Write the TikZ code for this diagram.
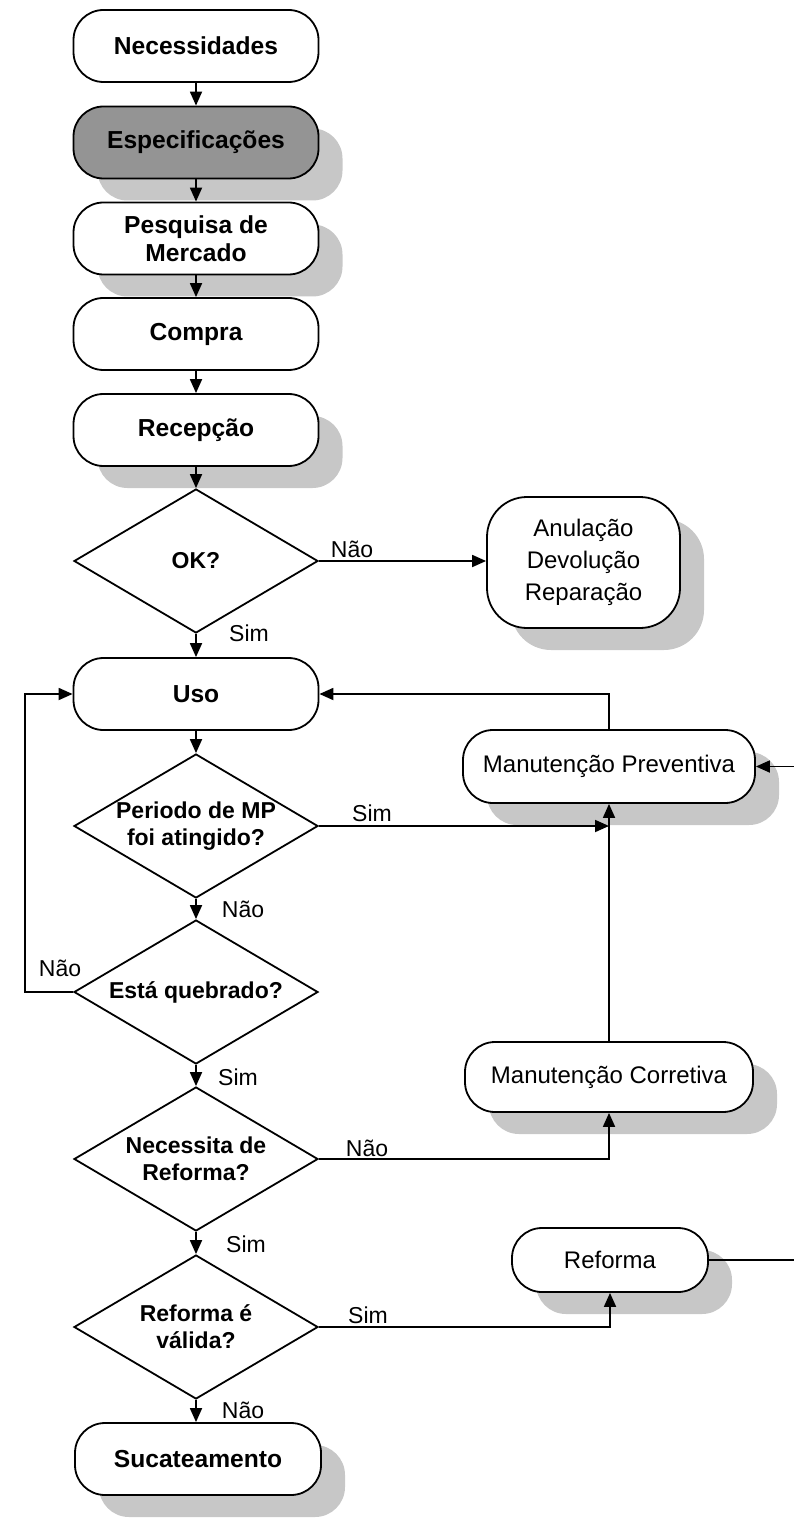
\documentclass[tikz,border=0pt]{standalone}
\usepackage{fontspec}
\setmainfont{Liberation Sans}
\usetikzlibrary{shapes.geometric,arrows.meta,shadows}

\begin{document}
\begin{tikzpicture}[x=0.5pt,y=-0.5pt,
  every node/.style={inner sep=0pt},
  term/.style={draw, line width=0.9pt, rounded corners=15pt, fill=white,
    minimum width=122.5pt, minimum height=36pt, align=center,
    font=\fontsize{12.3}{14}\selectfont\bfseries},
  proc/.style={draw, line width=0.9pt, rounded corners=15pt, fill=white,
    minimum height=36.5pt, align=center,
    font=\fontsize{12}{16}\selectfont},
  shade/.style={drop shadow={shadow xshift=12pt, shadow yshift=-11pt,
    fill=black!22, opacity=1}},
  decision/.style={draw, diamond, aspect=1.69, line width=0.9pt, fill=white,
    minimum width=122pt, minimum height=72pt, align=center,
    font=\fontsize{11.5}{13.5}\selectfont\bfseries},
  flow/.style={line width=0.9pt, -{Triangle[length=7pt,width=6pt]}},
  link/.style={line width=0.9pt},
  lbl/.style={font=\fontsize{11.5}{14}\selectfont}
]
\useasboundingbox (0,0) rectangle (793,1518);

% main column
\node[term] (nec) at (196,46) {Necessidades};
\node[term, shade, fill=black!42] (esp) at (196,142.5) {Especificações};
\node[term, shade] (pesq) at (196,238.5) {Pesquisa de\\Mercado};
\node[term] (compra) at (196,334) {Compra};
\node[term, shade] (rec) at (196,430) {Recepção};
\node[decision] (ok) at (196,561) {OK?};
\node[term] (uso) at (196,694) {Uso};
\node[decision] (mp) at (196,826) {Periodo de MP\\foi atingido?};
\node[decision] (quebrado) at (196,992) {Está quebrado?};
\node[decision] (nref) at (196,1159) {Necessita de\\Reforma?};
\node[decision] (valida) at (196,1327) {Reforma é\\válida?};
\node[term, shade, minimum width=123pt] (suc) at (198,1459) {Sucateamento};

% right column
\node[proc, shade, minimum width=96.5pt, minimum height=65.5pt, rounded corners=20pt]
  (anul) at (583.5,562.5) {Anulação\\Devolução\\Reparação};
\node[proc, shade, minimum width=146pt] (prev) at (609,766.5) {Manutenção Preventiva};
\node[proc, shade, minimum width=144pt, minimum height=35pt] (corr) at (609,1077) {Manutenção Corretiva};
\node[proc, shade, minimum width=98pt, minimum height=32pt] (reforma) at (610,1260) {Reforma};

% free ends at the right margin
\path (prev.east) -- ++(38,0) coordinate (edgeP);
\path (reforma.east) -- ++(85,0) coordinate (edgeR);
\coordinate (loopL) at (25,992);

% connectors
\draw[flow] (nec.south) -- (esp.north);
\draw[flow] (esp.south) -- (pesq.north);
\draw[flow] (pesq.south) -- (compra.north);
\draw[flow] (compra.south) -- (rec.north);
\draw[flow] (rec.south) -- (ok.north);
\draw[flow] (ok.east) -- (ok.east -| anul.west);
\draw[flow] (ok.south) -- (uso.north);
\draw[flow] (uso.south) -- (mp.north);
\draw[flow] (mp.south) -- (quebrado.north);
\draw[flow] (quebrado.south) -- (nref.north);
\draw[flow] (nref.south) -- (valida.north);
\draw[flow] (valida.south) -- (valida.south |- suc.north);
\draw[flow] (prev.north) |- (uso.east);
\draw[flow] (mp.east) -- (mp.east -| prev.south);
\draw[flow] (corr.north) -- (prev.south);
\draw[flow] (nref.east) -| (corr.south);
\draw[flow] (valida.east) -| (reforma.south);
\draw[link] (reforma.east) -- (edgeR);
\draw[flow] (edgeP) -- (prev.east);
\draw[flow] (quebrado.west) -- (loopL) |- (uso.west);

% branch labels
\node[lbl] (okNao) at (352,549) {Não};
\node[lbl] (okSim) at (249,633) {Sim};
\node[lbl] (mpSim) at (372,813) {Sim};
\node[lbl] (mpNao) at (243,909) {Não};
\node[lbl] (qbNao) at (60,968) {Não};
\node[lbl] (qbSim) at (238,1077) {Sim};
\node[lbl] (nrNao) at (367,1148) {Não};
\node[lbl] (nrSim) at (246,1244) {Sim};
\node[lbl] (vaSim) at (368,1315) {Sim};
\node[lbl] (vaNao) at (243,1410) {Não};
\end{tikzpicture}
\end{document}
